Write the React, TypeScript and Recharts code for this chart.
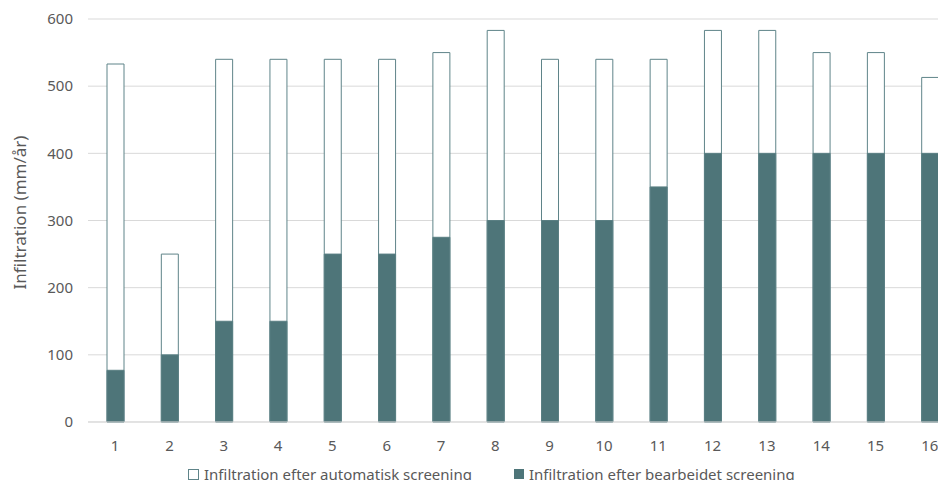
import React from "react";
import { BarChart, Bar, XAxis, YAxis, CartesianGrid, Legend } from "recharts";

const categories = ["1", "2", "3", "4", "5", "6", "7", "8", "9", "10", "11", "12", "13", "14", "15", "16"];
const automatiskValues = [533, 250, 540, 540, 540, 540, 550, 583, 540, 540, 540, 583, 583, 550, 550, 513];
const bearbejdetValues = [77, 100, 150, 150, 250, 250, 275, 300, 300, 300, 350, 400, 400, 400, 400, 400];
const yTicks = [0, 100, 200, 300, 400, 500, 600];
const seriesNames = ["Infiltration efter automatisk screening", "Infiltration efter bearbejdet screening"];

const data = categories.map((c, i) => ({
  name: c,
  automatisk: automatiskValues[i],
  bearbejdet: bearbejdetValues[i],
}));

const FONT = "'Noto Sans', sans-serif";
const TEXT = "#595959";
const DARK = "#4E7579";
const OUTLINE = "#5F8489";
const BAR_SIZE = 17;

const LegendContent = () => (
  <div style={{ display: "flex", alignItems: "center", fontFamily: FONT, fontSize: 15, color: TEXT, paddingLeft: 188, whiteSpace: "nowrap" }}>
    <span style={{ display: "inline-block", width: 9, height: 9, border: `1px solid ${OUTLINE}`, background: "#fff", marginRight: 5 }} />
    <span>{seriesNames[0]}</span>
    <span style={{ display: "inline-block", width: 10, height: 10, background: DARK, marginLeft: 42, marginRight: 5 }} />
    <span>{seriesNames[1]}</span>
  </div>
);

const YLabel = (props: any) => {
  const vb = props.viewBox || { x: 0, y: 0, width: 0, height: 0 };
  const x = 19;
  const y = vb.y + vb.height / 2 - 8;
  return (
    <text x={x} y={y} transform={`rotate(-90 ${x} ${y})`} textAnchor="middle" dominantBaseline="central" fill={TEXT} fontFamily={FONT} fontSize={17}>
      Infiltration (mm/år)
    </text>
  );
};

export default function App() {
  return (
    <div style={{ position: "relative", width: 946, height: 488, overflow: "hidden", margin: -8 }}>
      <BarChart
        width={957}
        height={488}
        data={data}
        margin={{ top: 19, right: 0, left: 0, bottom: 36 }}
        barGap={-BAR_SIZE}
        barSize={BAR_SIZE}
      >
        <CartesianGrid vertical={false} stroke="#D9D9D9" strokeWidth={1} />
        <XAxis
          dataKey="name"
          tickLine={false}
          axisLine={{ stroke: "#D9D9D9" }}
          tick={{ fill: TEXT, fontFamily: FONT, fontSize: 15 }}
          tickMargin={12}
          interval={0}
        />
        <YAxis
          width={88}
          domain={[0, 600]}
          ticks={yTicks}
          tickLine={false}
          axisLine={false}
          tick={{ fill: TEXT, fontFamily: FONT, fontSize: 15 }}
          tickMargin={9}
          label={<YLabel />}
        />
        <Legend
          verticalAlign="middle"
          align="center"
          layout="horizontal"
          content={<LegendContent />}
          wrapperStyle={{ position: "absolute", top: 464, left: 0, width: 957, height: 22 }}
        />
        <Bar dataKey="automatisk" name={seriesNames[0]} fill="#FFFFFF" stroke={OUTLINE} strokeWidth={1} isAnimationActive={false} />
        <Bar dataKey="bearbejdet" name={seriesNames[1]} fill={DARK} stroke="#5A7F83" strokeWidth={1} isAnimationActive={false} />
      </BarChart>
    </div>
  );
}
